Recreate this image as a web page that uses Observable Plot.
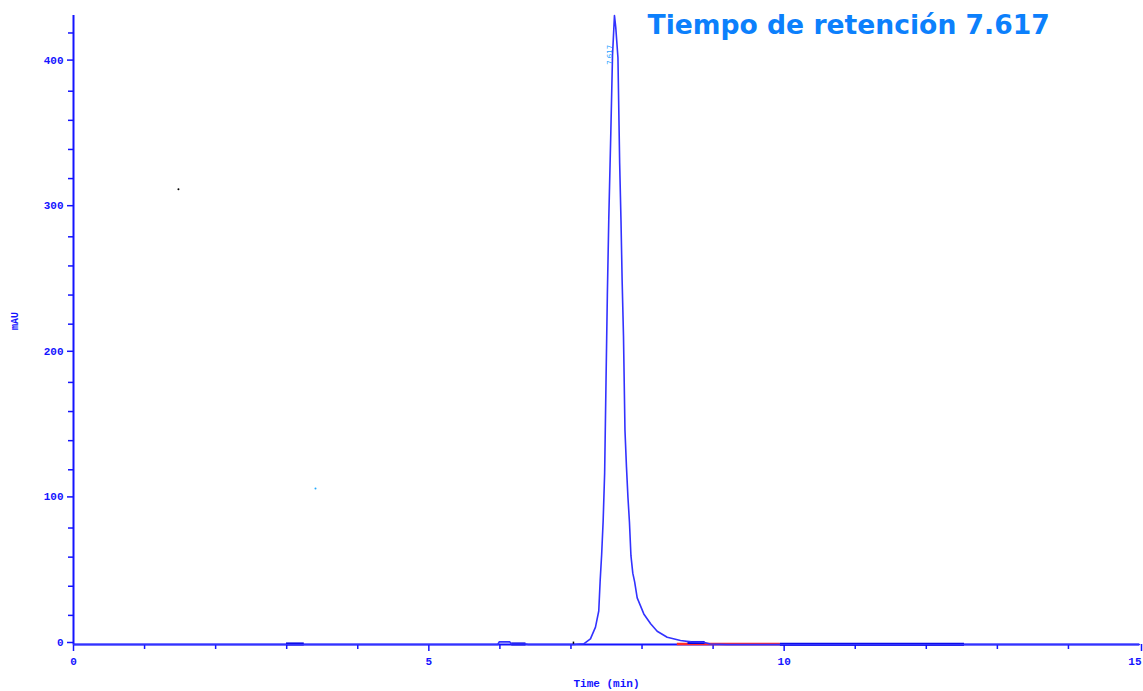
<!DOCTYPE html>
<html>
<head>
<meta charset="utf-8">
<script src="https://cdn.jsdelivr.net/npm/d3@7"></script>
<script src="https://cdn.jsdelivr.net/npm/@observablehq/plot@0.6"></script>
<style>
  html, body { margin: 0; padding: 0; background: #ffffff; }
  #chart svg { display: block; }
</style>
</head>
<body>
<div id="chart"></div>
<script>
// ---- Chromatogram trace (time in min, signal in mAU) ----
const time = [0, 2.99, 5.97, 5.99, 6.14, 6.16, 6.36, 6.40, 7.035, 7.18, 7.274, 7.345, 7.391, 7.411, 7.432, 7.453, 7.474, 7.493, 7.512, 7.532, 7.560, 7.585, 7.612,
  7.630, 7.661, 7.685, 7.704, 7.720, 7.739, 7.760, 7.781, 7.802, 7.823, 7.844, 7.870, 7.896, 7.932, 8.025, 8.121, 8.213, 8.354, 8.541, 8.69, 8.865, 8.96, 9.20, 15];
const mAU = [0, 0, 0, 1.8, 1.8, 0.4, 0.3, 0, 0, 0.5, 3.9, 11.9, 23, 44, 62, 85, 118, 180, 240, 292, 350, 405, 432,
  424, 403, 331, 291, 250, 212, 147, 122, 101, 84, 61, 49, 43, 32, 21, 14.2, 9.1, 5.0, 2.7, 1.8, 1.6, 0.3, 0, 0];

// integration baseline segments
const segStart = [2.99, 6.16, 8.64, 9.94];
const segEnd   = [3.24, 6.36, 8.88, 12.53];
const segLevel = [0.4, 0.4, 1.4, 0.2];
const redStart = [8.49];
const redEnd   = [9.94];
const redLevel = [0.3];

// ticks
const xMajor = [0, 5, 10];
const xLast = [15];
const xMinor = [1, 2, 3, 4, 6, 7, 8, 9, 11, 12, 13, 14];
const yMajor = [0, 100, 200, 300, 400];
const yMinor = [20, 40, 60, 80, 120, 140, 160, 180, 220, 240, 260, 280, 320, 340, 360, 380, 420];

// texts
const titleText = "Tiempo de retención 7.617";
const peakLabel = "7.617";
const peakTime = [7.54];
const peakLabelLevel = [405];
const startMarkTime = [7.035];
const startMarkTop = [2];
const strayTime = [1.477, 3.405];
const strayValue = [312.7, 107.2];
const strayColor = ["#000000", "#22aaff"];

const trace = time.map((t, i) => ({t, v: mAU[i]}));
const segs = segStart.map((s, i) => ({x1: s, x2: segEnd[i], y: segLevel[i]}));
const reds = redStart.map((s, i) => ({x1: s, x2: redEnd[i], y: redLevel[i]}));
const strays = strayTime.map((t, i) => ({t, v: strayValue[i], c: strayColor[i]}));
const marksStart = startMarkTime.map((t, i) => ({t, top: startMarkTop[i]}));

const axisColor = "#1414ff";
const tickFont = "Liberation Mono";

const chart = Plot.plot({
  width: 1143,
  height: 691,
  marginLeft: 73,
  marginRight: 4,
  marginTop: 15,
  marginBottom: 47,
  x: {domain: [0, 15]},
  y: {domain: [0, 432]},
  style: {background: "#ffffff", overflow: "visible"},
  marks: [
    // axes
    Plot.ruleY([0], {stroke: axisColor, strokeWidth: 2}),
    Plot.ruleX([0], {stroke: axisColor, strokeWidth: 2}),
    Plot.axisY({ticks: yMajor, tickSize: 6, tickPadding: 4, color: axisColor, strokeWidth: 1.5,
      fontFamily: tickFont, fontWeight: "bold", fontSize: 11, dy: -2, label: null}),
    Plot.axisY({ticks: yMinor, tickSize: 5, text: null, color: axisColor, strokeWidth: 1.5, label: null}),
    Plot.axisX({ticks: xMajor, tickSize: 7, tickPadding: 6, color: axisColor, strokeWidth: 1.5,
      fontFamily: tickFont, fontWeight: "bold", fontSize: 11, label: null}),
    Plot.axisX({ticks: xLast, tickSize: 7, tickPadding: 6, color: axisColor, strokeWidth: 1.5,
      fontFamily: tickFont, fontWeight: "bold", fontSize: 11, label: null, textAnchor: "end", dx: 2}),
    Plot.axisX({ticks: xMinor, tickSize: 5, text: null, color: axisColor, strokeWidth: 1.5, label: null}),
    Plot.text(["Time (min)"], {frameAnchor: "bottom", dy: 42, fill: axisColor,
      fontFamily: tickFont, fontWeight: "bold", fontSize: 11}),
    Plot.text(["mAU"], {frameAnchor: "left", dx: -59, rotate: -90, fill: axisColor,
      fontFamily: tickFont, fontWeight: "bold", fontSize: 10}),
    // baseline markers
    Plot.link(reds, {x1: "x1", x2: "x2", y1: "y", y2: "y", stroke: "#ff2a2a", strokeWidth: 2.5}),
    Plot.link(segs, {x1: "x1", x2: "x2", y1: "y", y2: "y", stroke: "#0000e0", strokeWidth: 3}),
    Plot.link(marksStart, {x1: "t", x2: "t", y1: 0, y2: "top", stroke: "#000000", strokeWidth: 1.5}),
    // trace
    Plot.line(trace, {x: "t", y: "v", stroke: "#3232ff", strokeWidth: 1.6, curve: "linear"}),
    // peak label
    Plot.text(peakTime, {x: d => d, y: (d, i) => peakLabelLevel[i], text: () => peakLabel, rotate: -90,
      fill: "#1ea0ff", fontSize: 7, fontFamily: "DejaVu Sans"}),
    // stray pixels
    Plot.dot(strays, {x: "t", y: "v", r: 1, fill: "c", stroke: null}),
    // title
    Plot.text([titleText], {x: 8.077, frameAnchor: "top", dy: 10, textAnchor: "start", lineAnchor: "middle",
      fill: "#0c80fc", fontFamily: "DejaVu Sans", fontWeight: "bold", fontSize: 26.6})
  ]
});
document.getElementById("chart").appendChild(chart);
</script>
</body>
</html>
